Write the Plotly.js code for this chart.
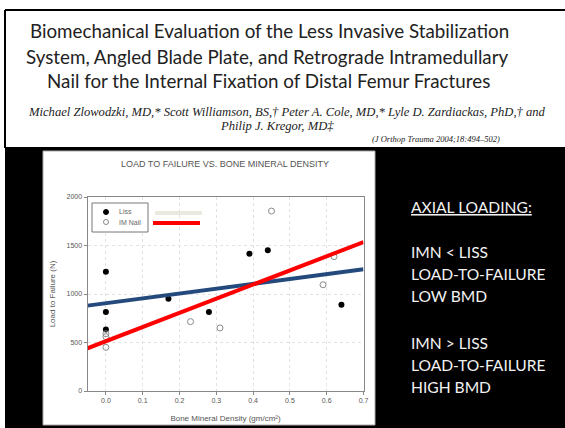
<!DOCTYPE html>
<html><head><meta charset="utf-8">
<script src="https://cdn.plot.ly/plotly-3.0.1.min.js"></script>
<style>html,body{margin:0;padding:0;background:#fff;}#chart{width:565px;height:428px;}</style>
</head><body><div id="chart"></div>
<script>
// Data
const lissBMD = [0.0, 0.0, 0.0, 0.17, 0.28, 0.39, 0.44, 0.64];
const lissLoad = [1230, 815, 635, 950, 815, 1415, 1450, 890];
const nailBMD = [0.0, 0.0, 0.0, 0.23, 0.31, 0.45, 0.59, 0.62];
const nailLoad = [590, 560, 450, 715, 650, 1855, 1095, 1385];
const fitBMD = [-0.05, 0.7];
const lissFit = [880, 1255];
const nailFit = [440, 1535];
const xTicks = [0.0, 0.1, 0.2, 0.3, 0.4, 0.5, 0.6, 0.7];
const yTicks = [0, 500, 1000, 1500, 2000];
const seriesNames = ['Liss', 'IM Nail'];

const W = 565, H = 428;
const px = x => x / W;
const py = y => 1 - y / H;

const traces = [
  {x: lissBMD, y: lissLoad, type: 'scatter', mode: 'markers', name: seriesNames[0],
   marker: {symbol: 'circle', size: 6, color: '#000'}, cliponaxis: false},
  {x: nailBMD, y: nailLoad, type: 'scatter', mode: 'markers', name: seriesNames[1],
   marker: {symbol: 'circle-open', size: 6, color: '#8a8a8a', line: {width: 1, color: '#8a8a8a'}}, cliponaxis: false},
  {x: fitBMD, y: lissFit, type: 'scatter', mode: 'lines', name: 'Liss fit',
   line: {color: '#24497c', width: 4}},
  {x: fitBMD, y: nailFit, type: 'scatter', mode: 'lines', name: 'IM Nail fit',
   line: {color: '#ff0000', width: 4}}
];

const shapes = [
  // slide frame
  {type: 'rect', xref: 'paper', yref: 'paper', x0: px(5), x1: px(565), y0: py(147), y1: py(428),
   fillcolor: '#000', line: {width: 0}, layer: 'below'},
  {type: 'line', xref: 'paper', yref: 'paper', x0: px(5), x1: px(566), y0: py(10), y1: py(10),
   line: {color: '#000', width: 2}, layer: 'below'},
  {type: 'line', xref: 'paper', yref: 'paper', x0: px(5), x1: px(5), y0: py(10), y1: py(148),
   line: {color: '#000', width: 2}, layer: 'below'},
  // chart picture
  {type: 'rect', xref: 'paper', yref: 'paper', x0: px(43), x1: px(375), y0: py(151), y1: py(425),
   fillcolor: '#fff', line: {color: '#aaa', width: 1}, layer: 'below'},
  // legend box
  {type: 'rect', xref: 'paper', yref: 'paper', x0: px(92), x1: px(148), y0: py(203), y1: py(232),
   fillcolor: '#fff', line: {color: '#777', width: 1}, layer: 'above'},
  // legend symbols
  {type: 'circle', xref: 'paper', yref: 'paper', x0: px(103.5), x1: px(108.5), y0: py(209.5), y1: py(214.5),
   fillcolor: '#000', line: {color: '#000', width: 1}, layer: 'above'},
  {type: 'circle', xref: 'paper', yref: 'paper', x0: px(103.5), x1: px(108.5), y0: py(219.5), y1: py(224.5),
   fillcolor: '#fff', line: {color: '#8a8a8a', width: 1}, layer: 'above'},
  // overlay legend strokes
  {type: 'line', xref: 'paper', yref: 'paper', x0: px(155), x1: px(202), y0: py(213), y1: py(213),
   line: {color: '#ebe8dd', width: 4}, layer: 'above'},
  {type: 'line', xref: 'paper', yref: 'paper', x0: px(153), x1: px(200), y0: py(223), y1: py(223),
   line: {color: '#ff0000', width: 4}, layer: 'above'}
];

const titleFont = {family: 'Lato, sans-serif', size: 18.8, color: '#222'};
const authFont = {family: '"Liberation Serif", serif', size: 12.6, color: '#222', style: 'italic'};
const sideFont = {family: 'Lato, sans-serif', size: 15.6, color: '#f2f2f2'};
const chartFont = {family: '"Liberation Sans", Arial, sans-serif', size: 7, color: '#555'};

function ann(text, x, y, font, xanchor) {
  return {text: text, xref: 'paper', yref: 'paper', x: px(x), y: py(y), xanchor: xanchor || 'center',
          yanchor: 'middle', showarrow: false, font: font, borderpad: 0};
}

const annotations = [
  ann('Biomechanical Evaluation of the Less Invasive Stabilization', 269, 31, titleFont),
  ann('System, Angled Blade Plate, and Retrograde Intramedullary', 267, 56, titleFont),
  ann('Nail for the Internal Fixation of Distal Femur Fractures', 268, 81, titleFont),
  ann('Michael Zlowodzki, MD,* Scott Williamson, BS,† Peter A. Cole, MD,* Lyle D. Zardiackas, PhD,† and', 287, 112, authFont),
  ann('Philip J. Kregor, MD‡', 277, 126.5, authFont),
  ann('(J Orthop Trauma 2004;18:494–502)', 371, 138.5, Object.assign({}, authFont, {size: 8.5}), 'left'),
  ann('LOAD TO FAILURE VS. BONE MINERAL DENSITY', 225, 164, {family: chartFont.family, size: 9, color: '#555'}),
  ann(seriesNames[0], 118, 212, {family: chartFont.family, size: 7, color: '#666'}, 'left'),
  ann(seriesNames[1], 118, 222, {family: chartFont.family, size: 7, color: '#666'}, 'left'),
  ann('AXIAL LOADING:', 410, 207, Object.assign({}, sideFont, {lineposition: 'under'}), 'left'),
  ann('IMN &lt; LISS', 410, 252, sideFont, 'left'),
  ann('LOAD-TO-FAILURE', 410, 274, sideFont, 'left'),
  ann('LOW BMD', 410, 296, sideFont, 'left'),
  ann('IMN &gt; LISS', 410, 343, sideFont, 'left'),
  ann('LOAD-TO-FAILURE', 410, 365, sideFont, 'left'),
  ann('HIGH BMD', 410, 387, sideFont, 'left')
];

const layout = {
  width: W, height: H,
  margin: {l: 0, r: 0, t: 0, b: 0},
  paper_bgcolor: '#fff',
  plot_bgcolor: 'rgba(0,0,0,0)',
  showlegend: false,
  xaxis: {
    domain: [px(87.5), px(363.5)], range: [-0.05, 0.7],
    tickvals: xTicks, ticktext: xTicks.map(v => v.toFixed(1)),
    showline: true, mirror: true, linecolor: '#888', linewidth: 1,
    ticks: 'outside', ticklen: 3, tickcolor: '#888',
    showgrid: true, gridcolor: '#e2e2e2', griddash: 'dot', zeroline: false,
    tickfont: chartFont,
    title: {text: 'Bone Mineral Density (gm/cm²)', font: {family: chartFont.family, size: 8, color: '#555'}, standoff: 11}
  },
  yaxis: {
    domain: [py(391), py(197)], range: [0, 2000],
    tickvals: yTicks,
    showline: true, mirror: true, linecolor: '#888', linewidth: 1,
    ticks: 'outside', ticklen: 3, tickcolor: '#888',
    showgrid: true, gridcolor: '#e2e2e2', griddash: 'dot', zeroline: false,
    tickfont: chartFont,
    title: {text: 'Load to Failure (N)', font: {family: chartFont.family, size: 8, color: '#555'}, standoff: 9}
  },
  shapes: shapes,
  annotations: annotations
};

Plotly.newPlot('chart', traces, layout, {staticPlot: true, displayModeBar: false});
</script>
</body></html>
